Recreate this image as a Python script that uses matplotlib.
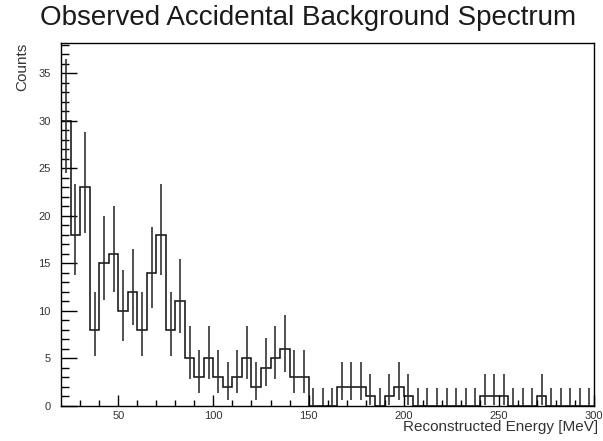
import matplotlib
matplotlib.use('Agg')
import matplotlib.pyplot as plt
import numpy as np

# bin edges (MeV) and counts
bin_edges = np.arange(20, 305, 5)
counts = [30, 18, 23, 8, 15, 16, 10, 12, 8, 14,
          18, 8, 11, 5, 3, 5, 3, 2, 3, 5,
          2, 4, 5, 6, 3, 3, 0, 0, 0, 2,
          2, 2, 1, 0, 1, 2, 1, 0, 0, 0,
          0, 0, 0, 0, 1, 1, 1, 0, 0, 0,
          1, 0, 0, 0, 0, 0]

title = 'Observed Accidental Background Spectrum'
xlabel = 'Reconstructed Energy [MeV]'
ylabel = 'Counts'

plt.rcParams['font.family'] = ['Liberation Sans', 'DejaVu Sans']

n = np.array(counts, dtype=float)
centers = 0.5 * (bin_edges[:-1] + bin_edges[1:])
# poisson-style asymmetric errors (Gehrels approximation)
err_up = 1 + np.sqrt(n + 0.75)
err_lo = np.where(n > 0, np.sqrt(np.clip(n - 0.25, 0, None)), 0)

fig = plt.figure(figsize=(6.03, 4.41), dpi=100)
ax = fig.add_axes([61.2 / 603, 1 - 406 / 441, (594 - 61.2) / 603, (406 - 43) / 441])

ax.stairs(n, bin_edges, color='#151515', lw=1.15)
ax.errorbar(centers, n, yerr=[err_lo, err_up], fmt='none', ecolor='#2a2a2a', elinewidth=1.15)

ax.set_xlim(20, 300)
ax.set_ylim(0, 38.2)
ax.set_xticks([50, 100, 150, 200, 250, 300])
ax.set_xticks(np.arange(30, 300, 10), minor=True)
ax.set_yticks(np.arange(0, 40, 5))
ax.set_yticks(np.arange(0, 39, 1), minor=True)

ax.tick_params(axis='x', which='major', direction='in', length=7.9, width=1, pad=3.5,
               labelsize=8, labelcolor='#333333')
ax.tick_params(axis='x', which='minor', direction='in', length=4, width=1)
ax.tick_params(axis='y', which='major', direction='in', length=11.5, width=1, pad=7.5,
               labelsize=8, labelcolor='#333333')
ax.tick_params(axis='y', which='minor', direction='in', length=5.8, width=1)
for s in ax.spines.values():
    s.set_linewidth(1.0)

fig.text(0.511, 1 - 18 / 441, title, ha='center', va='center', fontsize=20, color='#1a1a1a')
fig.text(598 / 603, 1 - 427 / 441, xlabel, ha='right', va='center', fontsize=11, color='#333333')
fig.text(22 / 603, 1 - 43 / 441, ylabel, ha='center', va='top', rotation=90, fontsize=11,
         color='#333333')

fig.savefig('out.png', dpi=100)
